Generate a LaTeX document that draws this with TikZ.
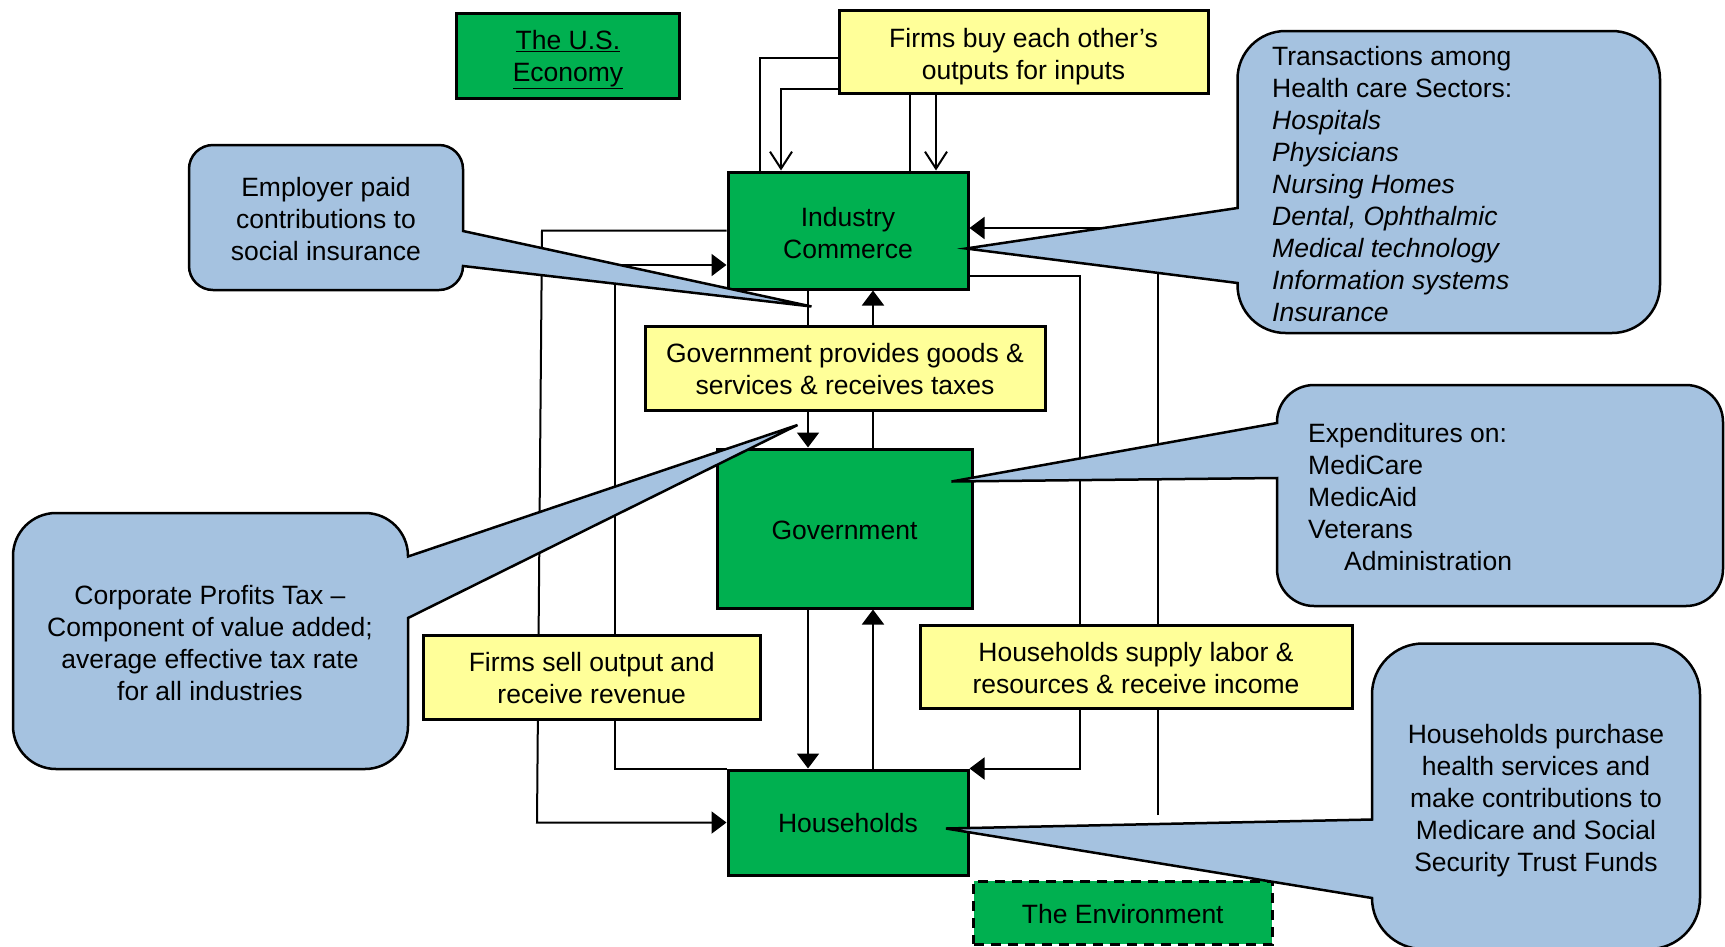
\documentclass[tikz,border=0pt]{standalone}
\usepackage{fontspec}
\setmainfont{Liberation Sans}
\usetikzlibrary{arrows.meta}
\pgfdeclarelayer{background}
\pgfsetlayers{background,main}
\definecolor{boxgreen}{RGB}{0,176,80}
\definecolor{boxyellow}{RGB}{255,255,153}
\definecolor{callblue}{RGB}{165,194,224}
\begin{document}
\begin{tikzpicture}[x=1pt,y=-1pt,
  every node/.style={font=\fontsize{26.5}{32}\selectfont, inner sep=0pt},
  gbox/.style={draw=black, line width=3pt, fill=boxgreen},
  ybox/.style={draw=black, line width=3pt, fill=boxyellow},
  conn/.style={line width=2pt, draw=black},
  tri/.style={-{Triangle[length=15pt,width=22pt]}},
  barb/.style={-{Straight Barb[length=17pt,width=22pt]}},
  callout/.style={draw=black, line width=2.5pt, fill=callblue},
]
\useasboundingbox (0,0) rectangle (1725,946);

% ---------- boxes ----------
\node[gbox, minimum width=223.5pt, minimum height=85pt] (econ) at (568,55.5) {};
\node[ybox, minimum width=369pt, minimum height=83.5pt] (firmsbuy) at (1023.5,51.75) {};
\node[gbox, minimum width=240pt, minimum height=117pt] (industry) at (848,230.5) {};
\node[ybox, minimum width=400pt, minimum height=84pt] (govprov) at (845,368) {};
\node[gbox, minimum width=255pt, minimum height=159pt] (gov) at (844.5,528.5) {};
\node[ybox, minimum width=336.5pt, minimum height=84pt] (firmssell) at (591.75,677) {};
\node[ybox, minimum width=432pt, minimum height=83pt] (hhsupply) at (1136,666.5) {};
\node[gbox, minimum width=240pt, minimum height=105pt] (hh) at (848,822.5) {};
\node[gbox, dash pattern=on 10pt off 7pt, minimum width=298.5pt, minimum height=63pt] (env) at (1122.75,912.5) {};

% ---------- box texts ----------
\node[align=center] (econtxt) at ([yshift=-4.4pt]econ.center) {\underline{The U.S.}\\\underline{Economy}};
\node[align=center] (firmsbuytxt) at ([yshift=-4.4pt]firmsbuy.center) {Firms buy each other’s\\outputs for inputs};
\node[align=center] (industrytxt) at ([yshift=-2.5pt]industry.center) {Industry\\Commerce};
\node[align=center] (govprovtxt) at ([yshift=-1pt]govprov.center) {Government provides goods \&\\services \& receives taxes};
\node (govtxt) at ([yshift=-2pt]gov.center) {Government};
\node[align=center] (firmsselltxt) at ([yshift=-1.5pt]firmssell.center) {Firms sell output and\\receive revenue};
\node[align=center] (hhsupplytxt) at ([yshift=-2pt]hhsupply.center) {Households supply labor \&\\resources \& receive income};
\node (hhtxt) at ([yshift=-1pt]hh.center) {Households};
\node (envtxt) at ([yshift=-2pt]env.center) {The Environment};

% ---------- connectors (behind the boxes) ----------
\begin{pgfonlayer}{background}
\draw[conn] ([yshift=-6.25pt]firmsbuy.west) -| ([xshift=-88pt]industry.north);
\draw[conn,barb] ([yshift=-37.25pt]firmsbuy.west) -| ([xshift=-67pt]industry.north);
\draw[conn] ([xshift=-114pt]firmsbuy.south) -- ([xshift=61.5pt]industry.north);
\draw[conn,barb] ([xshift=-87.5pt]firmsbuy.south) -- ([xshift=88pt]industry.north);

\draw[conn,tri] (industry.west) -- (542,230.5) -- (537,822.5) -- (hh.west);
\draw[conn,tri] (hh.north west) -- ++(-112,0) |- ([yshift=-34.5pt]industry.west);

\draw[conn] ([xshift=-40pt]industry.south) -- ([xshift=-37pt]govprov.north);
\draw[conn,tri] ([xshift=28pt]govprov.north) -- ([xshift=25pt]industry.south);
\draw[conn,tri] ([xshift=-37pt]govprov.south) -- ([xshift=-36.5pt]gov.north);
\draw[conn] ([xshift=28.5pt]gov.north) -- ([xshift=28pt]govprov.south);
\draw[conn,tri] ([xshift=-36.5pt]gov.south) -- ([xshift=-40pt]hh.north);
\draw[conn,tri] ([xshift=25pt]hh.north) -- ([xshift=28.5pt]gov.south);

\draw[conn,tri] ([yshift=-45.5pt]industry.east) -- ++(110,0) |- (hh.north east);
\coordinate (labor) at (1158,815);
\draw[conn,tri] (labor) |- ([yshift=2.5pt]industry.east);
\end{pgfonlayer}

% ---------- callouts ----------
\draw[callout] (213,145) -- (439,145) .. controls (452.25,145) and (463,155.75) .. (463,169)
  -- (463,231) -- (811.5,306.5) -- (463,266)
  .. controls (463,279.25) and (452.25,290) .. (439,290) -- (213,290)
  .. controls (199.75,290) and (189,279.25) .. (189,266) -- (189,169)
  .. controls (189,155.75) and (199.75,145) .. (213,145) -- cycle;

\draw[callout] (1285.5,31) -- (1612,31) .. controls (1638.5,31) and (1660,52.5) .. (1660,79)
  -- (1660,285) .. controls (1660,311.5) and (1638.5,333) .. (1612,333) -- (1285.5,333)
  .. controls (1259,333) and (1237.5,311.5) .. (1237.5,285) -- (1237.5,283)
  -- (966,248.5) -- (1237.5,208) -- (1237.5,79)
  .. controls (1237.5,52.5) and (1259,31) .. (1285.5,31) -- cycle;

\draw[callout] (1314,385) -- (1686,385) .. controls (1706.4,385) and (1723,401.6) .. (1723,422)
  -- (1723,569) .. controls (1723,589.4) and (1706.4,606) .. (1686,606) -- (1314,606)
  .. controls (1293.6,606) and (1277,589.4) .. (1277,569) -- (1277,478)
  -- (951.5,481.5) -- (1277,423) -- (1277,422)
  .. controls (1277,401.6) and (1293.6,385) .. (1314,385) -- cycle;

\draw[callout] (56,513) -- (365,513) .. controls (388.75,513) and (408,532.25) .. (408,556)
  -- (408,556.5) -- (797.5,425) -- (408,618) -- (408,726)
  .. controls (408,749.75) and (388.75,769) .. (365,769) -- (56,769)
  .. controls (32.25,769) and (13,749.75) .. (13,726) -- (13,556)
  .. controls (13,532.25) and (32.25,513) .. (56,513) -- cycle;

\draw[callout] (1423,643.5) -- (1649,643.5) .. controls (1677.2,643.5) and (1700,666.3) .. (1700,694.5)
  -- (1700,898) .. controls (1700,926.2) and (1677.2,949) .. (1649,949) -- (1423,949)
  .. controls (1394.8,949) and (1372,926.2) .. (1372,898)
  -- (946,828.5) -- (1372,819.5) -- (1372,694.5)
  .. controls (1372,666.3) and (1394.8,643.5) .. (1423,643.5) -- cycle;

% ---------- callout texts ----------
\node[align=center] (employertxt) at (326,219) {Employer paid\\contributions to\\social insurance};
\node[align=left, anchor=west] (transtxt) at (1272,184) {Transactions among\\Health care Sectors:\\\textit{Hospitals}\\\textit{Physicians}\\\textit{Nursing Homes}\\\textit{Dental, Ophthalmic}\\\textit{Medical technology}\\\textit{Information systems}\\\textit{Insurance}};
\node[align=left, anchor=west] (exptxt) at (1308,497.5) {Expenditures on:\\MediCare\\MedicAid\\Veterans\\\hspace*{36pt}Administration};
\node[align=center] (corptxt) at (210,643) {Corporate Profits Tax –\\Component of value added;\\average effective tax rate\\for all industries};
\node[align=center] (hhptxt) at (1536,800.4) {Households purchase\\health services and\\make contributions to\\Medicare and Social\\Security Trust Funds};
\end{tikzpicture}
\end{document}
